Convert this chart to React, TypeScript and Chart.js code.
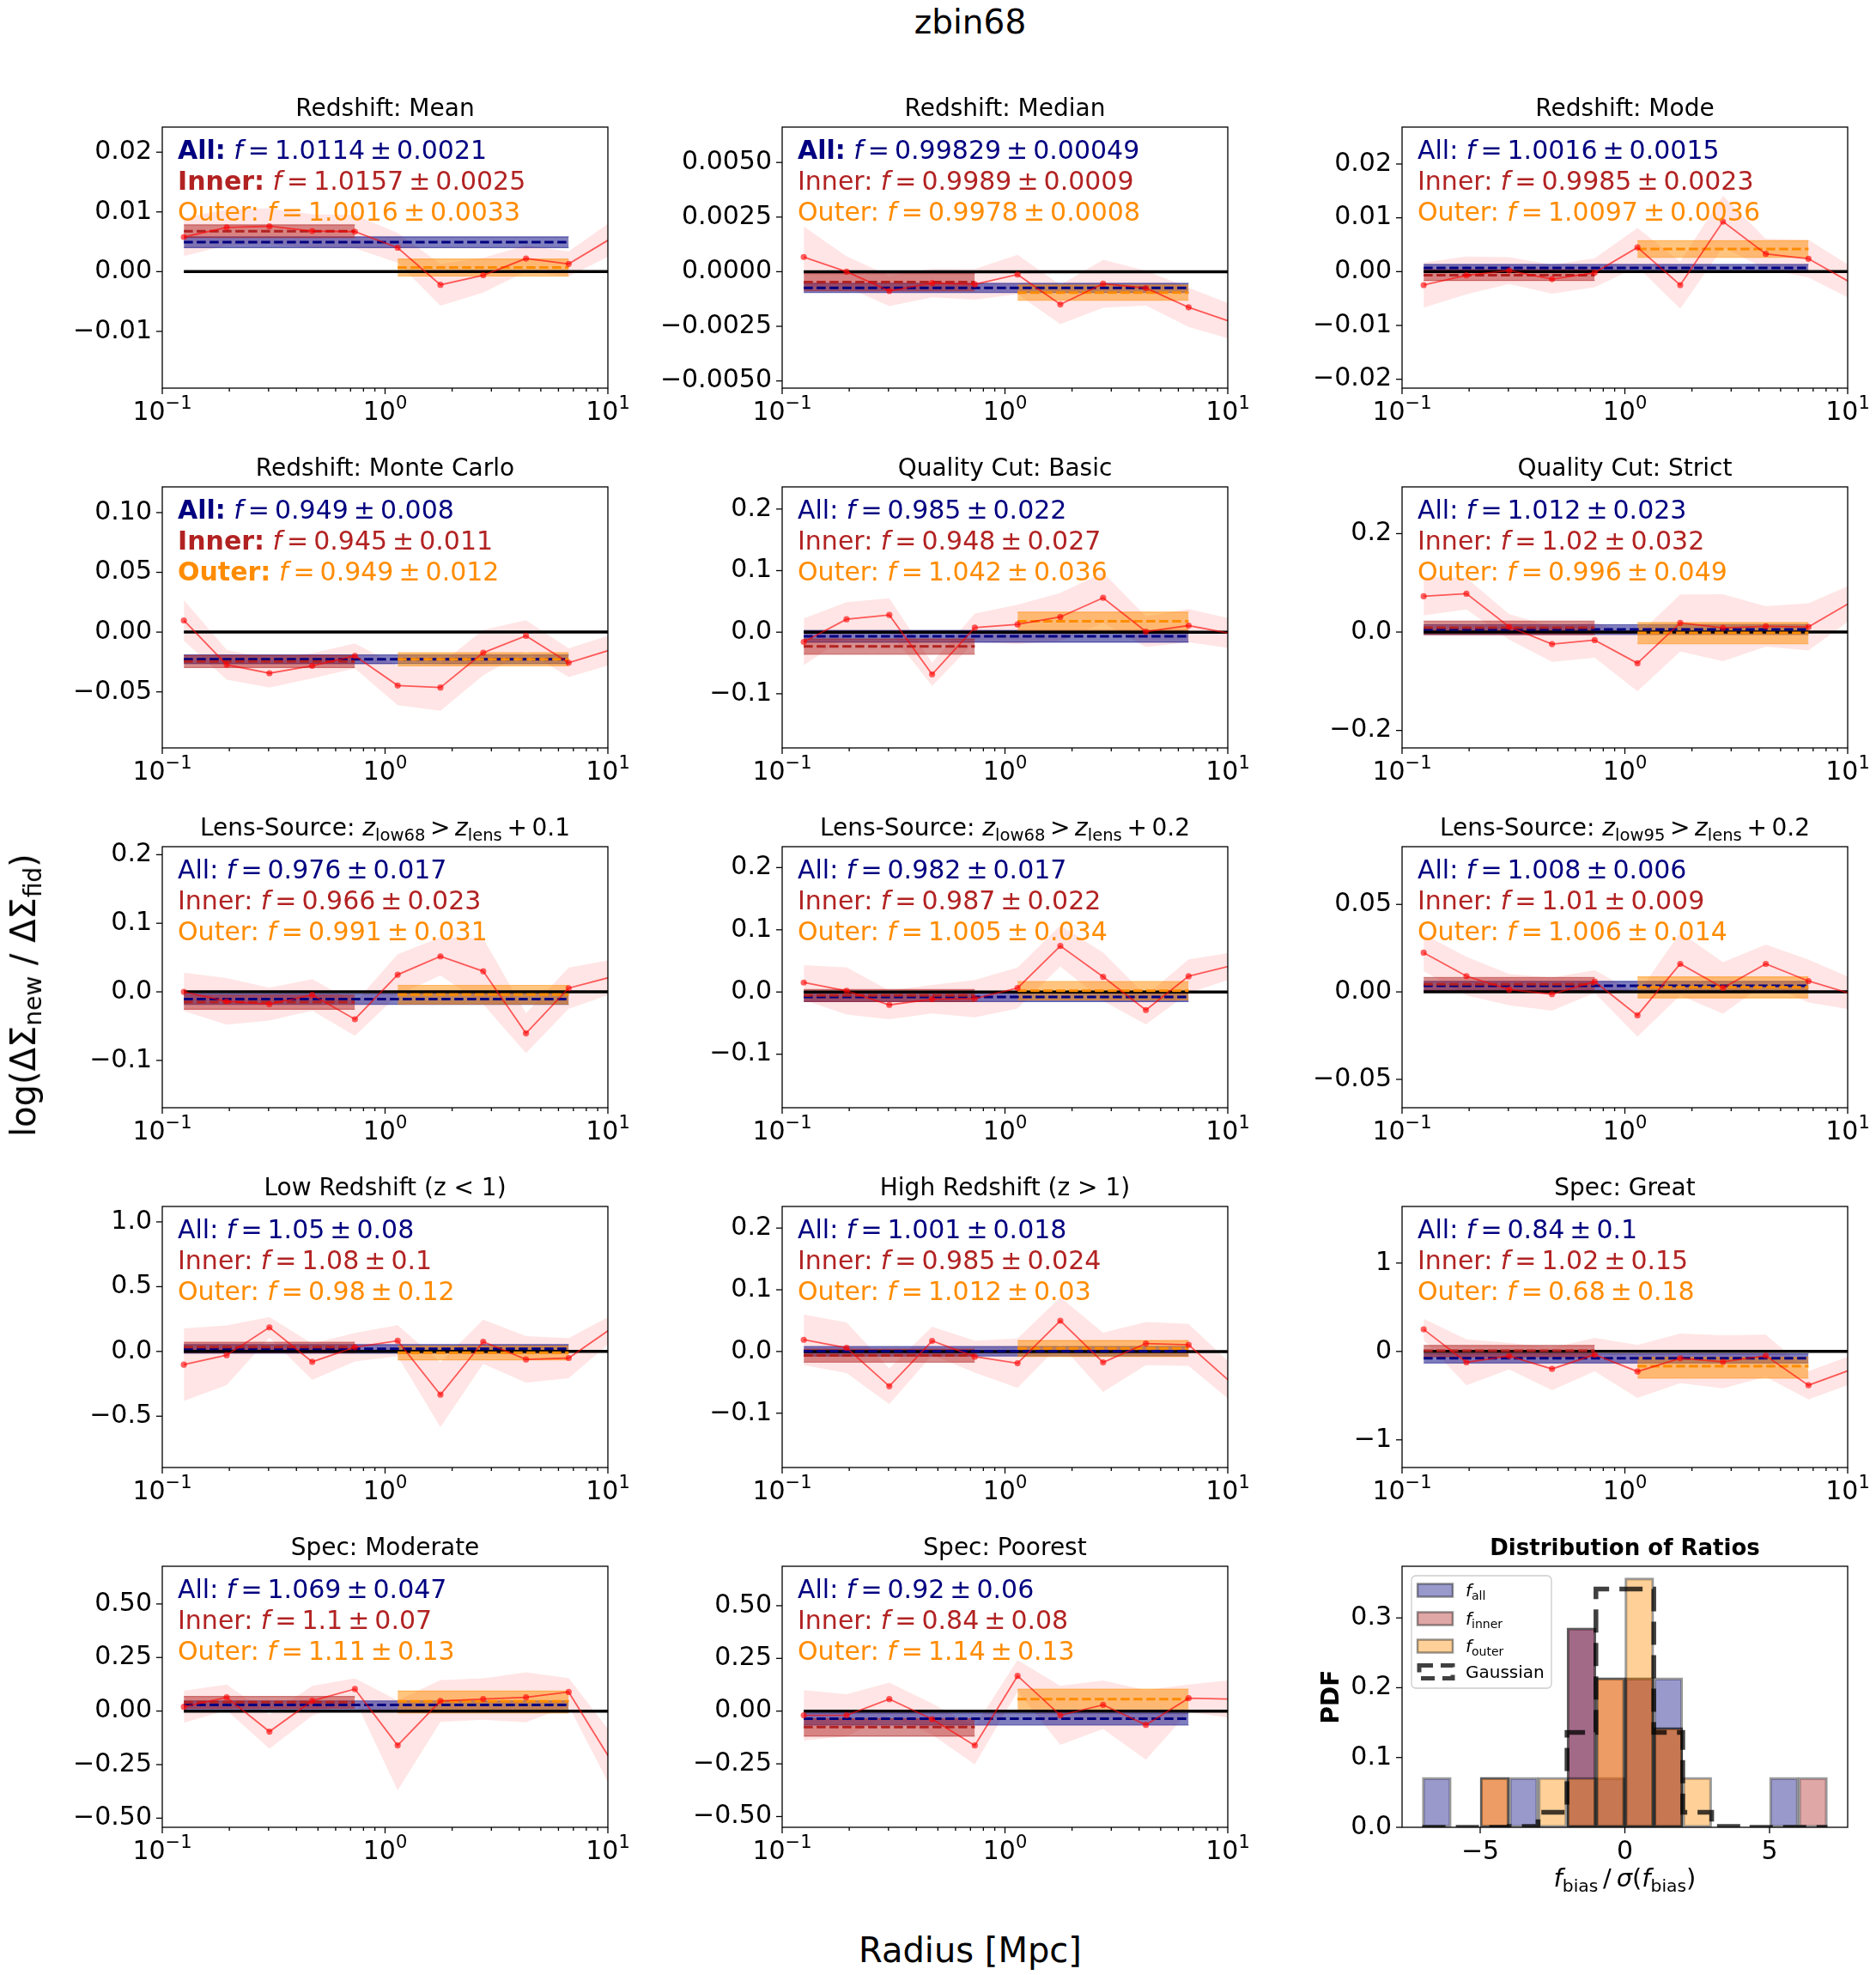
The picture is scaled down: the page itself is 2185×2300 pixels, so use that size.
import React, { useEffect, useRef } from "react";
import { Chart, registerables } from "chart.js";
import type { ChartConfiguration, Plugin } from "chart.js";

Chart.register(...registerables);

const FONT = '"DejaVu Sans", "Liberation Sans", sans-serif';
const NAVY = "#000080";
const FIREBRICK = "#b22222";
const DARKORANGE = "#ff8c00";
const MINUS = "\u2212";
const THIN = "\u2009";

// ---------------------------------------------------------------------------
// Data
// ---------------------------------------------------------------------------

// Projected radius of each measurement bin [Mpc]
const radii = [0.125, 0.1945, 0.3026, 0.471, 0.732, 1.139, 1.772, 2.757, 4.29, 6.67, 10.38];
// Bin index ranges used for the inner / outer fits
const innerRange = [0, 4];
const outerRange = [5, 9];
const allRange = [0, 9];

const panelTitles = [
  "Redshift: Mean",
  "Redshift: Median",
  "Redshift: Mode",
  "Redshift: Monte Carlo",
  "Quality Cut: Basic",
  "Quality Cut: Strict",
  "Lens-Source: *z*_{low68}\u2009>\u2009*z*_{lens}\u2009+\u20090.1",
  "Lens-Source: *z*_{low68}\u2009>\u2009*z*_{lens}\u2009+\u20090.2",
  "Lens-Source: *z*_{low95}\u2009>\u2009*z*_{lens}\u2009+\u20090.2",
  "Low Redshift (z < 1)",
  "High Redshift (z > 1)",
  "Spec: Great",
  "Spec: Moderate",
  "Spec: Poorest",
];

// log(ΔΣ_new / ΔΣ_fid) per radial bin
const ratioValues = [
  [0.0058, 0.0074, 0.0076, 0.0068, 0.0067, 0.004, -0.0022, -0.0006, 0.0022, 0.0013, 0.0056],
  [0.00067, 0.0, -0.00088, -0.00052, -0.00058, -0.00013, -0.0015, -0.00055, -0.00075, -0.00163, -0.0023],
  [-0.0025, -0.0007, 0.0002, -0.0014, -0.0002, 0.0045, -0.0025, 0.0093, 0.0033, 0.0024, -0.0021],
  [0.0098, -0.0273, -0.0344, -0.0282, -0.0199, -0.0447, -0.0464, -0.0172, -0.0031, -0.0256, -0.0146],
  [-0.0158, 0.0209, 0.0279, -0.0684, 0.0074, 0.0126, 0.0247, 0.0558, 0.0009, 0.0107, -0.0025],
  [0.0727, 0.0779, 0.0105, -0.0244, -0.0163, -0.0634, 0.0186, 0.0087, 0.0116, 0.0105, 0.061],
  [0.0, -0.0138, -0.018, -0.0046, -0.04, 0.025, 0.0517, 0.03, -0.0604, 0.0054, 0.0218],
  [0.0152, 0.0018, -0.0207, -0.0115, -0.0106, 0.0064, 0.074, 0.0244, -0.029, 0.0253, 0.0424],
  [0.0224, 0.009, 0.0013, -0.0013, 0.0059, -0.0134, 0.016, 0.0023, 0.016, 0.0062, -0.0011],
  [-0.102, -0.029, 0.186, -0.08, 0.033, 0.082, -0.334, 0.075, -0.062, -0.051, 0.178],
  [0.019, 0.006, -0.0563, 0.0172, -0.0084, -0.019, 0.0498, -0.0177, 0.013, 0.0107, -0.0507],
  [0.25, -0.123, -0.052, -0.198, -0.036, -0.227, -0.078, -0.117, -0.049, -0.382, -0.205],
  [0.02, 0.064, -0.096, 0.048, 0.103, -0.16, 0.047, 0.056, 0.064, 0.089, -0.234],
  [-0.02, -0.02, 0.057, -0.038, -0.163, 0.167, -0.02, 0.03, -0.065, 0.061, 0.057],
];

// 1-sigma uncertainty of each ratio
const ratioErrors = [
  [0.0032, 0.003, 0.003, 0.0028, 0.0028, 0.0025, 0.0035, 0.0029, 0.0022, 0.0021, 0.0028],
  [0.0014, 0.0007, 0.0007, 0.00065, 0.0007, 0.0009, 0.0009, 0.0011, 0.0008, 0.0009, 0.0008],
  [0.0042, 0.0035, 0.0025, 0.0027, 0.0027, 0.0036, 0.0044, 0.0048, 0.0028, 0.0035, 0.003],
  [0.017, 0.0125, 0.012, 0.0105, 0.0105, 0.0165, 0.0195, 0.019, 0.013, 0.012, 0.0125],
  [0.038, 0.028, 0.027, 0.019, 0.023, 0.032, 0.039, 0.041, 0.025, 0.027, 0.024],
  [0.039, 0.032, 0.026, 0.036, 0.036, 0.057, 0.058, 0.068, 0.041, 0.048, 0.035],
  [0.028, 0.034, 0.024, 0.023, 0.024, 0.03, 0.028, 0.048, 0.029, 0.03, 0.025],
  [0.028, 0.038, 0.023, 0.023, 0.03, 0.033, 0.033, 0.039, 0.023, 0.027, 0.021],
  [0.0106, 0.011, 0.009, 0.0094, 0.0065, 0.0122, 0.018, 0.0147, 0.011, 0.0123, 0.009],
  [0.28, 0.23, 0.08, 0.14, 0.11, 0.12, 0.25, 0.17, 0.18, 0.155, 0.1],
  [0.041, 0.041, 0.029, 0.023, 0.026, 0.04, 0.038, 0.048, 0.035, 0.034, 0.03],
  [0.12, 0.26, 0.15, 0.24, 0.19, 0.3, 0.28, 0.3, 0.24, 0.16, 0.16],
  [0.075, 0.06, 0.08, 0.07, 0.05, 0.21, 0.098, 0.097, 0.117, 0.065, 0.13],
  [0.12, 0.1, 0.078, 0.074, 0.09, 0.075, 0.14, 0.115, 0.165, 0.065, 0.09],
];

// Fitted amplitude f and its uncertainty for all / inner / outer bins
const fAll = [1.0114, 0.99829, 1.0016, 0.949, 0.985, 1.012, 0.976, 0.982, 1.008, 1.05, 1.001, 0.84, 1.069, 0.92];
const sigmaAll = [0.0021, 0.00049, 0.0015, 0.008, 0.022, 0.023, 0.017, 0.017, 0.006, 0.08, 0.018, 0.1, 0.047, 0.06];
const fInner = [1.0157, 0.9989, 0.9985, 0.945, 0.948, 1.02, 0.966, 0.987, 1.01, 1.08, 0.985, 1.02, 1.1, 0.84];
const sigmaInner = [0.0025, 0.0009, 0.0023, 0.011, 0.027, 0.032, 0.023, 0.022, 0.009, 0.1, 0.024, 0.15, 0.07, 0.08];
const fOuter = [1.0016, 0.9978, 1.0097, 0.949, 1.042, 0.996, 0.991, 1.005, 1.006, 0.98, 1.012, 0.68, 1.11, 1.14];
const sigmaOuter = [0.0033, 0.0008, 0.0036, 0.012, 0.036, 0.049, 0.031, 0.034, 0.014, 0.12, 0.03, 0.18, 0.13, 0.13];

const yLimits: [number, number][] = [
  [-0.0195, 0.0242],
  [-0.00533, 0.00662],
  [-0.02165, 0.02686],
  [-0.0969, 0.1215],
  [-0.188, 0.236],
  [-0.2355, 0.295],
  [-0.169, 0.2117],
  [-0.186, 0.2336],
  [-0.0662, 0.083],
  [-0.896, 1.119],
  [-0.188, 0.235],
  [-1.313, 1.64],
  [-0.5427, 0.676],
  [-0.551, 0.687],
];

const yTickValues = [
  [-0.01, 0, 0.01, 0.02],
  [-0.005, -0.0025, 0, 0.0025, 0.005],
  [-0.02, -0.01, 0, 0.01, 0.02],
  [-0.05, 0, 0.05, 0.1],
  [-0.1, 0, 0.1, 0.2],
  [-0.2, 0, 0.2],
  [-0.1, 0, 0.1, 0.2],
  [-0.1, 0, 0.1, 0.2],
  [-0.05, 0, 0.05],
  [-0.5, 0, 0.5, 1.0],
  [-0.1, 0, 0.1, 0.2],
  [-1, 0, 1],
  [-0.5, -0.25, 0, 0.25, 0.5],
  [-0.5, -0.25, 0, 0.25, 0.5],
];
const yTickDecimals = [2, 4, 2, 2, 1, 1, 1, 1, 2, 1, 1, 0, 2, 2];
const xTickExponents = [-1, 0, 1];

// Histogram of f_bias / sigma(f_bias)
const histBinEdges = [-7, -6, -5, -4, -3, -2, -1, 0, 1, 2, 3, 4, 5, 6, 7];
const gaussianBinPdf = [1e-9, 2.9e-7, 3.17e-5, 0.00132, 0.0214, 0.1359, 0.3413, 0.3413, 0.1359, 0.0214, 0.00132, 3.17e-5, 2.9e-7, 1e-9];
const histXLimits = [-7.7, 7.7];
const histYLimits = [0, 0.374];
const histXTicks = [-5, 0, 5];
const histYTicks = [0, 0.1, 0.2, 0.3];
const histLegendLabels = ["*f*_{all}", "*f*_{inner}", "*f*_{outer}", "Gaussian"];

// ---------------------------------------------------------------------------
// Layout
// ---------------------------------------------------------------------------
const PLOT_W = 519;
const PLOT_H = 304;
const ROW_TOPS = [148, 567, 986, 1405, 1824];
const COL_LEFTS = [189, 911, 1633];
const PAD = { left: 180, top: 70, right: 25, bottom: 95 };
const CANVAS_W = PLOT_W + PAD.left + PAD.right;
const CANVAS_H = PLOT_H + PAD.top + PAD.bottom;

// ---------------------------------------------------------------------------
// Rich text helpers (italic, bold, sub/superscripts)
// ---------------------------------------------------------------------------
type Seg = { t: string; i?: boolean; b?: boolean; sub?: boolean; sup?: boolean };

function parseRich(s: string): Seg[] {
  const out: Seg[] = [];
  const re = /(\*[^*]+\*|_\{[^}]*\}|\^\{[^}]*\})/g;
  let last = 0;
  let m: RegExpExecArray | null;
  while ((m = re.exec(s))) {
    if (m.index > last) out.push({ t: s.slice(last, m.index) });
    const tok = m[0];
    if (tok[0] === "*") out.push({ t: tok.slice(1, -1), i: true });
    else if (tok[0] === "_") out.push({ t: tok.slice(2, -1), sub: true });
    else out.push({ t: tok.slice(2, -1), sup: true });
    last = m.index + tok.length;
  }
  if (last < s.length) out.push({ t: s.slice(last) });
  return out;
}

function segFont(seg: Seg, size: number) {
  const s = seg.sub || seg.sup ? size * 0.7 : size;
  return `${seg.i ? "italic " : ""}${seg.b ? "bold " : ""}${s}px ${FONT}`;
}

function drawRich(
  ctx: CanvasRenderingContext2D,
  segs: Seg[],
  x: number,
  y: number,
  size: number,
  color: string,
  align: "left" | "center" | "right"
) {
  ctx.save();
  let w = 0;
  for (const seg of segs) {
    ctx.font = segFont(seg, size);
    w += ctx.measureText(seg.t).width;
  }
  let cx = align === "center" ? x - w / 2 : align === "right" ? x - w : x;
  ctx.fillStyle = color;
  ctx.textAlign = "left";
  ctx.textBaseline = "alphabetic";
  for (const seg of segs) {
    ctx.font = segFont(seg, size);
    const dy = seg.sub ? 0.22 * size : seg.sup ? -0.45 * size : 0;
    ctx.fillText(seg.t, cx, y + dy);
    cx += ctx.measureText(seg.t).width;
  }
  ctx.restore();
}

function fmtTick(v: number, dec: number) {
  const s = v.toFixed(dec);
  return s.startsWith("-") ? MINUS + s.slice(1) : s;
}

function tickLine(ctx: CanvasRenderingContext2D, x0: number, y0: number, x1: number, y1: number) {
  ctx.beginPath();
  ctx.moveTo(x0, y0);
  ctx.lineTo(x1, y1);
  ctx.stroke();
}

// ---------------------------------------------------------------------------
// Ratio panels
// ---------------------------------------------------------------------------
const fitGroups = [
  { name: "All", f: fAll, s: sigmaAll, color: NAVY, fill: "rgba(0,0,128,0.5)", range: allRange },
  { name: "Inner", f: fInner, s: sigmaInner, color: FIREBRICK, fill: "rgba(178,34,34,0.5)", range: innerRange },
  { name: "Outer", f: fOuter, s: sigmaOuter, color: DARKORANGE, fill: "rgba(255,140,0,0.5)", range: outerRange },
];

function ratioPanelPlugin(i: number): Plugin<"line"> {
  return {
    id: `ratioPanel${i}`,
    afterDraw(chart) {
      const { ctx, chartArea: a } = chart;
      const xs = chart.scales.x;
      const ys = chart.scales.y;
      ctx.save();
      ctx.strokeStyle = "#000";
      ctx.fillStyle = "#000";
      ctx.lineWidth = 1.3;
      ctx.strokeRect(a.left, a.top, a.right - a.left, a.bottom - a.top);

      ctx.font = `30px ${FONT}`;
      ctx.textAlign = "right";
      ctx.textBaseline = "middle";
      for (const v of yTickValues[i]) {
        const py = ys.getPixelForValue(v);
        tickLine(ctx, a.left - 7, py, a.left, py);
        ctx.fillText(fmtTick(v, yTickDecimals[i]), a.left - 12, py);
      }

      for (let e = -1; e <= 1; e++) {
        for (let m = 1; m <= 9; m++) {
          const v = m * Math.pow(10, e);
          if (v > 10.0001) continue;
          const px = xs.getPixelForValue(v);
          tickLine(ctx, px, a.bottom, px, a.bottom + (m === 1 ? 7 : 4));
        }
      }
      for (const e of xTickExponents) {
        const px = xs.getPixelForValue(Math.pow(10, e));
        drawRich(ctx, [{ t: "10" }, { t: e < 0 ? MINUS + -e : String(e), sup: true }], px, a.bottom + 37, 30, "#000", "center");
      }

      drawRich(ctx, parseRich(panelTitles[i]), (a.left + a.right) / 2, a.top - 13, 28, "#000", "center");

      fitGroups.forEach((g, k) => {
        const f = g.f[i];
        const s = g.s[i];
        const significant = Math.abs(f - 1) / s > 3;
        const segs: Seg[] = [
          { t: `${g.name}:`, b: significant },
          { t: " " },
          { t: "f", i: true },
          { t: `${THIN}=${THIN}${f}${THIN}\u00b1${THIN}${s}` },
        ];
        drawRich(ctx, segs, a.left + 18, a.top + 37 + k * 36, 30, g.color, "left");
      });
      ctx.restore();
    },
  };
}

function buildRatioConfig(i: number): ChartConfiguration<"line"> {
  const vals = ratioValues[i];
  const errs = ratioErrors[i];
  const upper = radii.map((r, k) => ({ x: r, y: vals[k] + errs[k] }));
  const lower = radii.map((r, k) => ({ x: r, y: vals[k] - errs[k] }));
  const points = radii.map((r, k) => ({ x: r, y: vals[k] }));

  const base = { pointRadius: 0, tension: 0, fill: false as any };
  const datasets: any[] = [
    { ...base, data: upper, borderWidth: 0, borderColor: "rgba(0,0,0,0)", backgroundColor: "rgba(255,0,0,0.1)", fill: "+1", order: 20 },
    { ...base, data: lower, borderWidth: 0, borderColor: "rgba(0,0,0,0)", order: 20 },
  ];

  fitGroups.forEach((g, k) => {
    const f = g.f[i];
    const s = g.s[i];
    const x0 = radii[g.range[0]];
    const x1 = radii[g.range[1]];
    const hi = Math.log10(f + s);
    const lo = Math.log10(f - s);
    datasets.push(
      { ...base, data: [{ x: x0, y: hi }, { x: x1, y: hi }], borderWidth: 1.2, borderColor: g.fill, backgroundColor: g.fill, fill: "+1", order: 15 - k },
      { ...base, data: [{ x: x0, y: lo }, { x: x1, y: lo }], borderWidth: 1.2, borderColor: g.fill, order: 15 - k }
    );
  });

  datasets.push({ ...base, data: [{ x: radii[0], y: 0 }, { x: radii[radii.length - 1], y: 0 }], borderWidth: 3.5, borderColor: "#000", order: 10 });

  fitGroups.forEach((g, k) => {
    const lf = Math.log10(g.f[i]);
    datasets.push({
      ...base,
      data: [{ x: radii[g.range[0]], y: lf }, { x: radii[g.range[1]], y: lf }],
      borderWidth: 3,
      borderColor: g.color,
      borderDash: [10.5, 4.5],
      order: 8 - k,
    });
  });

  datasets.push({
    ...base,
    data: points,
    borderWidth: 1.8,
    borderColor: "rgba(255,0,0,0.62)",
    pointRadius: 3.6,
    pointBorderWidth: 0,
    pointBackgroundColor: "rgba(255,0,0,0.62)",
    order: 1,
  });

  return {
    type: "line",
    data: { datasets },
    options: {
      animation: false,
      responsive: false,
      devicePixelRatio: 1,
      events: [],
      layout: { padding: PAD },
      plugins: { legend: { display: false }, tooltip: { enabled: false }, title: { display: false } },
      scales: {
        x: { type: "logarithmic", min: 0.1, max: 10, display: false },
        y: { type: "linear", min: yLimits[i][0], max: yLimits[i][1], display: false },
      },
    },
    plugins: [ratioPanelPlugin(i)],
  };
}

function RatioPanel({ index }: { index: number }) {
  const ref = useRef<HTMLCanvasElement>(null);
  const row = Math.floor(index / 3);
  const col = index % 3;
  useEffect(() => {
    const chart = new Chart(ref.current as HTMLCanvasElement, buildRatioConfig(index));
    return () => chart.destroy();
  }, [index]);
  return (
    <canvas
      ref={ref}
      width={CANVAS_W}
      height={CANVAS_H}
      style={{ position: "absolute", left: COL_LEFTS[col] - PAD.left, top: ROW_TOPS[row] - PAD.top, width: CANVAS_W, height: CANVAS_H }}
    />
  );
}

// ---------------------------------------------------------------------------
// Distribution of ratios
// ---------------------------------------------------------------------------
function binDensity(f: number[], s: number[]) {
  const nBins = histBinEdges.length - 1;
  const counts = new Array(nBins).fill(0);
  f.forEach((fv, k) => {
    const r = Math.round(((fv - 1) / s[k]) * 1e6) / 1e6;
    for (let b = 0; b < nBins; b++) {
      const last = b === nBins - 1;
      if (r >= histBinEdges[b] && (r < histBinEdges[b + 1] || (last && r <= histBinEdges[b + 1]))) {
        counts[b] += 1;
        break;
      }
    }
  });
  return counts.map((c, b) => c / (f.length * (histBinEdges[b + 1] - histBinEdges[b])));
}

const histGroups = [
  { f: fAll, s: sigmaAll, fill: "rgba(0,0,128,0.4)" },
  { f: fInner, s: sigmaInner, fill: "rgba(178,34,34,0.4)" },
  { f: fOuter, s: sigmaOuter, fill: "rgba(255,140,0,0.4)" },
];
const HIST_EDGE = "rgba(0,0,0,0.4)";
const GAUSS_LINE = "rgba(0,0,0,0.75)";

const histPlugin: Plugin<"bar"> = {
  id: "histDecorations",
  afterDraw(chart) {
    const { ctx, chartArea: a } = chart;
    const xs = chart.scales.x;
    const ys = chart.scales.y;
    ctx.save();
    ctx.strokeStyle = "#000";
    ctx.fillStyle = "#000";
    ctx.lineWidth = 1.3;
    ctx.strokeRect(a.left, a.top, a.right - a.left, a.bottom - a.top);

    ctx.font = `30px ${FONT}`;
    ctx.textAlign = "right";
    ctx.textBaseline = "middle";
    for (const v of histYTicks) {
      const py = ys.getPixelForValue(v);
      tickLine(ctx, a.left - 7, py, a.left, py);
      ctx.fillText(fmtTick(v, 1), a.left - 12, py);
    }
    ctx.textAlign = "center";
    ctx.textBaseline = "alphabetic";
    for (const v of histXTicks) {
      const px = xs.getPixelForValue(v);
      tickLine(ctx, px, a.bottom, px, a.bottom + 7);
      ctx.fillText(fmtTick(v, 0), px, a.bottom + 37);
    }

    // title
    ctx.font = `bold 26px ${FONT}`;
    ctx.fillText("Distribution of Ratios", (a.left + a.right) / 2, a.top - 13);

    // axis labels
    drawRich(ctx, parseRich(`*f*_{bias}${THIN}/${THIN}*\u03c3*(*f*_{bias})`), (a.left + a.right) / 2, a.bottom + 69, 29, "#000", "center");
    ctx.save();
    ctx.translate(a.left - 81, (a.top + a.bottom) / 2);
    ctx.rotate(-Math.PI / 2);
    ctx.font = `bold 28px ${FONT}`;
    ctx.textAlign = "center";
    ctx.textBaseline = "middle";
    ctx.fillText("PDF", 0, 0);
    ctx.restore();

    // legend
    const bx = a.left + 11;
    const by = a.top + 11;
    const bw = 163;
    const bh = 131;
    ctx.beginPath();
    ctx.roundRect(bx, by, bw, bh, 5);
    ctx.fillStyle = "rgba(255,255,255,0.8)";
    ctx.fill();
    ctx.strokeStyle = "#cccccc";
    ctx.lineWidth = 1.3;
    ctx.stroke();
    const rowCenters = [28, 61, 93, 123];
    histLegendLabels.forEach((label, k) => {
      const cy = a.top + rowCenters[k];
      const px = a.left + 18;
      if (k < 3) {
        ctx.fillStyle = histGroups[k].fill;
        ctx.fillRect(px, cy - 7.5, 41, 15);
        ctx.strokeStyle = HIST_EDGE;
        ctx.lineWidth = 2.5;
        ctx.strokeRect(px, cy - 7.5, 41, 15);
      } else {
        ctx.strokeStyle = GAUSS_LINE;
        ctx.lineWidth = 5;
        ctx.setLineDash([16, 9]);
        ctx.strokeRect(px + 2, cy - 7.5, 39, 15);
        ctx.setLineDash([]);
      }
      drawRich(ctx, parseRich(label), a.left + 74, cy + 7, 20, "#000", "left");
    });
    ctx.restore();
  },
};

function buildHistConfig(): ChartConfiguration<"bar"> {
  const centers = histBinEdges.slice(0, -1).map((e, b) => (e + histBinEdges[b + 1]) / 2);
  const datasets: any[] = histGroups.map((g, k) => {
    const dens = binDensity(g.f, g.s);
    return {
      type: "bar",
      data: centers.map((c, b) => ({ x: c, y: dens[b] })),
      backgroundColor: g.fill,
      borderColor: HIST_EDGE,
      borderWidth: 2.5,
      borderSkipped: false,
      grouped: false,
      barPercentage: 1,
      categoryPercentage: 1,
      order: 5 - k,
    };
  });
  // step outline: each bin's value holds from its left edge to its right edge
  const stepPoints = [
    { x: histBinEdges[0], y: 0 },
    ...gaussianBinPdf.map((p, b) => ({ x: histBinEdges[b + 1], y: p })),
    { x: histBinEdges[histBinEdges.length - 1], y: 0 },
  ];
  datasets.push({
    type: "line",
    data: stepPoints,
    stepped: "after",
    borderColor: GAUSS_LINE,
    borderWidth: 5.5,
    borderDash: [27, 12],
    pointRadius: 0,
    fill: false,
    order: 0,
  });
  return {
    type: "bar",
    data: { datasets },
    options: {
      animation: false,
      responsive: false,
      devicePixelRatio: 1,
      events: [],
      layout: { padding: PAD },
      plugins: { legend: { display: false }, tooltip: { enabled: false }, title: { display: false } },
      scales: {
        x: { type: "linear", min: histXLimits[0], max: histXLimits[1], offset: false, display: false },
        y: { type: "linear", min: histYLimits[0], max: histYLimits[1], display: false },
      },
    },
    plugins: [histPlugin],
  };
}

function HistogramPanel() {
  const ref = useRef<HTMLCanvasElement>(null);
  useEffect(() => {
    const chart = new Chart(ref.current as HTMLCanvasElement, buildHistConfig());
    return () => chart.destroy();
  }, []);
  return (
    <canvas
      ref={ref}
      width={CANVAS_W}
      height={CANVAS_H}
      style={{ position: "absolute", left: COL_LEFTS[2] - PAD.left, top: ROW_TOPS[4] - PAD.top, width: CANVAS_W, height: CANVAS_H }}
    />
  );
}

// ---------------------------------------------------------------------------
// Figure
// ---------------------------------------------------------------------------
const subStyle: React.CSSProperties = { fontSize: "70%", verticalAlign: "-0.25em", lineHeight: 0 };

export default function App() {
  return (
    <div style={{ position: "relative", width: 2185, height: 2300, background: "#fff", overflow: "hidden", fontFamily: FONT, color: "#000" }}>
      <style>{`html,body{margin:0;padding:0;background:#fff;}`}</style>
      <div style={{ position: "absolute", left: 1130, top: 6, transform: "translateX(-50%)", fontSize: 39, lineHeight: 1, whiteSpace: "nowrap" }}>
        zbin68
      </div>
      {panelTitles.map((_, i) => (
        <RatioPanel key={i} index={i} />
      ))}
      <HistogramPanel />
      <div style={{ position: "absolute", left: 1130, top: 2251, transform: "translateX(-50%)", fontSize: 40, lineHeight: 1, whiteSpace: "nowrap" }}>
        Radius [Mpc]
      </div>
      <div
        style={{
          position: "absolute",
          left: 27,
          top: 1159,
          transform: "translate(-50%, -50%) rotate(-90deg)",
          fontSize: 40,
          lineHeight: 1,
          whiteSpace: "nowrap",
        }}
      >
        log(ΔΣ<sub style={subStyle}>new</sub> / ΔΣ<sub style={subStyle}>fid</sub>)
      </div>
    </div>
  );
}
